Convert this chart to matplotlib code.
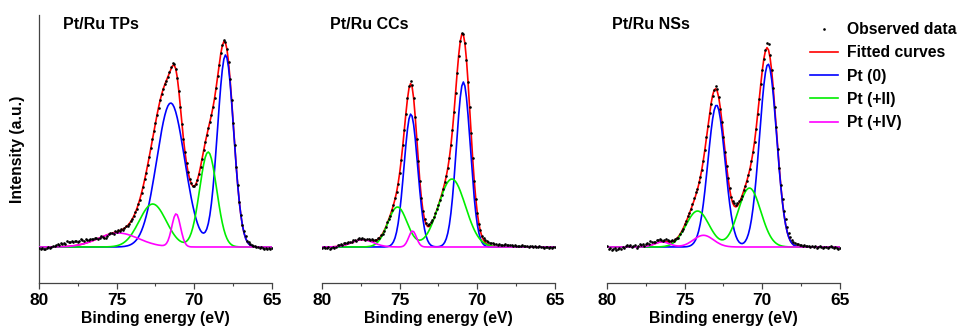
import matplotlib
matplotlib.use("Agg")
import matplotlib.pyplot as plt
from matplotlib.lines import Line2D
from matplotlib.ticker import MultipleLocator
import numpy as np

plt.rcParams['font.family'] = ['Liberation Sans', 'DejaVu Sans']
plt.rcParams['font.weight'] = 'bold'

# binding energy grid of the measured spectra (eV), 80 -> 65 in 0.1 steps
energy = np.round(np.linspace(80.0, 65.0, 151), 1)

titles = ["Pt/Ru TPs", "Pt/Ru CCs", "Pt/Ru NSs"]

# fitted components: (centre eV, height a.u., sigma eV)
pt0_tps = [(67.99, 192, 0.52), (71.52, 144, 0.90)]
pt2_tps = [(69.11, 95, 0.55), (72.68, 43, 0.87)]
pt4_tps = [(71.17, 33, 0.28), (74.90, 14, 1.30)]

pt0_ccs = [(70.90, 165, 0.45), (74.28, 133, 0.44)]
pt2_ccs = [(71.64, 68, 0.87), (75.14, 40, 0.62)]
pt4_ccs = [(74.17, 16, 0.25), (77.40, 7.3, 0.70)]

pt0_nss = [(69.63, 183, 0.55), (72.95, 142, 0.55)]
pt2_nss = [(70.83, 59, 0.73), (74.17, 36, 0.75)]
pt4_nss = [(73.79, 11.7, 0.65), (76.46, 5, 0.50)]

resid_tps = [-1, -2, -1, -2, -2, -1, 0, -1, 0, 1, 1,
             2, 3, 2, 4, 3, 4, 3, 5, 4, 4,
             5, 4, 5, 4, 3, 4, 5, 4, 3, 4,
             3, 2, 3, 2, 1, 2, 1, -1, 0, 1,
             0, -2, -3, -1, 0, 1, 0, -1, 1, 0,
             1, 0, 1, -1, 0, 1, 0, 0, 1, 0,
             0, 1, 0, 0, -1, 0, 0, 1, 0, 0,
             0, 0, 1, 0, 0, 0, -1, 0, 0, 0,
             0, 0, 0, 1, 2, 3, 1, 0, -1, 0,
             0, 0, 0, 0, 1, 0, 0, 1, 0, 0,
             0, 0, 0, 0, 0, 0, 1, 0, 0, 0,
             0, 0, 0, 0, 0, 0, 1, 1, 2, 1,
             0, 0, 0, 0, 0, 0, 0, 1, 0, 1,
             1, 2, 2, 1, 2, 1, 1, 0, 1, 0,
             0, -1, 0, -1, -2, -1, -2, -1, -2, -1]

resid_ccs = [-1, 0, -1, -1, 0, -2, -1, 0, -1, 0, 1,
             1, 2, 1, 2, 2, 1, 2, 1, 1, 2,
             1, 0, 1, 2, 1, 2, 1, 0, 1, 1,
             1, 2, 1, 1, 0, 1, 0, 1, 0, 0,
             0, 1, 0, -1, 0, 0, 1, 0, 0, 0,
             0, 1, 0, 0, 1, 2, 3, 2, 0, 0,
             0, 0, 1, 0, 0, 0, 1, 2, 3, 3,
             2, 2, 1, 1, 0, 0, 0, 0, 1, 0,
             0, 0, 0, 0, 0, 0, 0, -1, 0, 1,
             1, 0, 0, 0, 0, 0, 0, 0, 0, 0,
             0, 1, 1, 2, 2, 3, 3, 3, 3, 3,
             3, 3, 2, 3, 2, 2, 2, 3, 2, 2,
             2, 2, 1, 2, 1, 1, 1, 1, 2, 1,
             1, 1, 0, 1, 1, 0, 1, 0, 0, 1,
             0, 0, -1, 0, 0, -1, 0, -1, 0, 0]

resid_nss = [1, -2, -1, -3, -2, -1, -3, -2, -1, -2, 0,
             -1, 1, 2, 1, 2, 0, 1, 2, -1, 1,
             3, 2, 3, 1, 2, 3, 2, 4, 3, 2,
             2, 3, 2, 3, 2, 1, 2, 3, 2, 1,
             1, 1, 0, 1, 0, -1, 0, 1, 0, 1,
             1, 2, 1, 0, 1, 3, 4, 2, 3, 1,
             0, -1, 0, 1, 0, 1, 0, -1, 0, 3,
             2, 1, 0, 0, -1, 0, 0, 1, 2, 1,
             2, 3, 2, 3, 2, 1, 0, 1, 0, 0,
             0, 0, 0, 0, -1, 0, 1, 0, 0, 0,
             0, 1, 5, 6, 3, 1, 0, 0, 1, 0,
             1, 2, 3, 4, 5, 5, 4, 4, 3, 3,
             3, 2, 3, 2, 2, 1, 2, 1, 1, 1,
             0, 1, 0, 1, -1, 0, 1, 0, -1, 0,
             0, -1, 0, 1, 0, -1, 0, -1, -2, -1]

components = [(pt0_tps, pt2_tps, pt4_tps),
              (pt0_ccs, pt2_ccs, pt4_ccs),
              (pt0_nss, pt2_nss, pt4_nss)]
residuals = [resid_tps, resid_ccs, resid_nss]


def component(peaks):
    y = np.zeros_like(energy)
    for c, h, s in peaks:
        y = y + h * np.exp(-0.5 * ((energy - c) / s) ** 2)
    return y


RED, BLUE, GREEN, MAG = '#ff0000', '#0000ff', '#00ee00', '#ff00ff'

fig = plt.figure(figsize=(9.59, 3.32), dpi=100)
lefts = [39, 322, 607]
title_x = [24, 8, 5]
for i in range(3):
    ax = fig.add_axes([lefts[i] / 959, 49 / 332, 233 / 959, 268 / 332])
    pt0 = component(components[i][0])
    pt2 = component(components[i][1])
    pt4 = component(components[i][2])
    fit = pt0 + pt2 + pt4
    obs = fit + np.array(residuals[i])

    ax.plot(energy, fit, color=RED, lw=1.2, zorder=2)
    ax.plot(energy, pt0, color=BLUE, lw=1.2, zorder=3)
    ax.plot(energy, pt2, color=GREEN, lw=1.2, zorder=3)
    ax.plot(energy, pt4, color=MAG, lw=1.2, zorder=4)
    ax.plot(energy, obs, ls='none', marker='o', ms=1.9, mew=0, color='black', zorder=5)

    ax.set_xlim(80, 65)
    ax.set_ylim(-36, 232)
    ax.xaxis.set_major_locator(MultipleLocator(5))
    ax.xaxis.set_minor_locator(MultipleLocator(2.5))
    ax.tick_params(axis='x', which='major', length=4, width=0.9, labelsize=12.5, pad=3.5, color='#444444')
    ax.tick_params(axis='x', which='minor', length=2.5, width=0.8, color='#444444')
    for lab in ax.get_xticklabels():
        lab.set_fontweight('bold')
    ax.set_yticks([])
    ax.set_xlabel("Binding energy (eV)", fontsize=11.3, fontweight='bold', labelpad=2)
    for side in ['top', 'right']:
        ax.spines[side].set_visible(False)
    ax.spines['bottom'].set_color('#444444')
    ax.spines['bottom'].set_linewidth(0.9)
    if i == 0:
        ax.spines['left'].set_color('#444444')
        ax.spines['left'].set_linewidth(0.9)
        ax.set_ylabel("Intensity (a.u.)", fontsize=11.3, fontweight='bold', labelpad=10)
    else:
        ax.spines['left'].set_visible(False)
    ax.text(title_x[i] / 233, 1 - 10 / 268, titles[i], transform=ax.transAxes,
            fontsize=11.5, fontweight='bold', ha='left', va='center')

handles = [Line2D([], [], ls='none', marker='o', ms=1.9, mew=0, color='black'),
           Line2D([], [], color=RED, lw=1.2),
           Line2D([], [], color=BLUE, lw=1.2),
           Line2D([], [], color=GREEN, lw=1.2),
           Line2D([], [], color=MAG, lw=1.2)]
labels = ["Observed data", "Fitted curves", "Pt (0)", "Pt (+II)", "Pt (+IV)"]
fig.legend(handles, labels, loc='upper left', bbox_to_anchor=(810 / 959, 1 - 22 / 332),
           frameon=False, handlelength=1.8, handletextpad=0.56,
           labelspacing=0.53, borderaxespad=0, borderpad=0,
           prop={'weight': 'bold', 'size': 11.3})

fig.savefig("out.png", dpi=100)
